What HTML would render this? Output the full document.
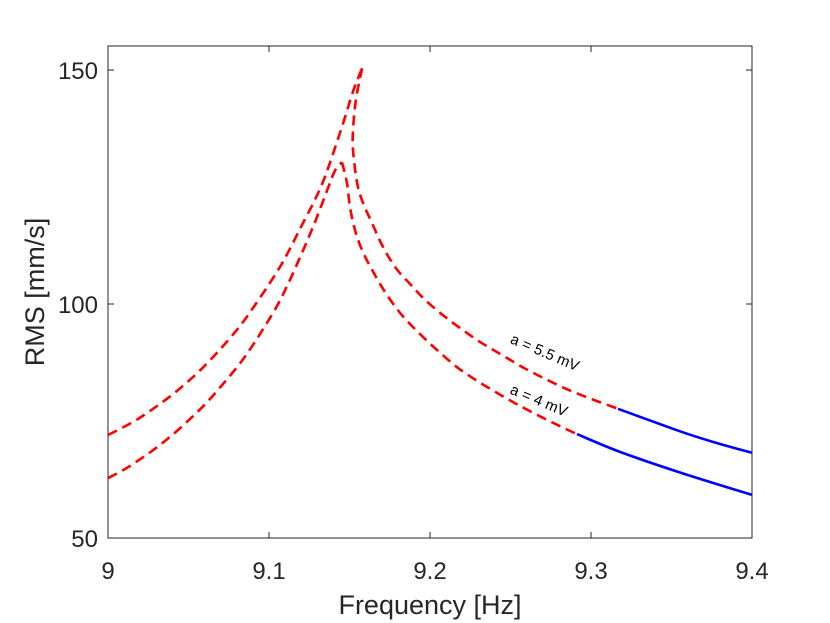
<!DOCTYPE html>
<html><head><meta charset="utf-8"><style>
body{margin:0;background:#fff;}
svg{display:block;font-family:"Liberation Sans",sans-serif;}
</style></head><body>
<svg id="chart" width="830" height="623" viewBox="0 0 830 623" xmlns="http://www.w3.org/2000/svg">
<rect width="830" height="623" fill="#fff"/>
<g id="axes"></g>
<g id="series"></g>
<text x="430" y="614" font-size="27" text-anchor="middle" fill="#262626">Frequency [Hz]</text>
<text transform="translate(44,292) rotate(-90)" font-size="27" text-anchor="middle" fill="#262626">RMS [mm/s]</text>
<text transform="translate(543,357) rotate(23)" font-size="15" text-anchor="middle" fill="#000">a = 5.5 mV</text>
<text transform="translate(537,405) rotate(23)" font-size="15" text-anchor="middle" fill="#000">a = 4 mV</text>
</svg>
<script>
const xTicks=[9,9.1,9.2,9.3,9.4];
const xTickLabels=["9","9.1","9.2","9.3","9.4"];
const yTicks=[50,100,150];
const yTickLabels=["50","100","150"];
const upperLeftF=[9.0000,9.0155,9.0280,9.0398,9.0509,9.0615,9.0714,9.0820,9.0901,9.0988,9.1068,9.1130,9.1193,9.1267,9.1329,9.1379,9.1460,9.1522,9.1578];
const upperLeftV=[72.0,74.8,77.6,80.6,83.8,87.3,91.0,95.3,99.2,103.6,107.9,111.8,116.1,121.0,125.6,130.2,138.6,145.4,150.4];
const lowerLeftF=[9.0000,9.0118,9.0261,9.0385,9.0509,9.0615,9.0714,9.0820,9.0901,9.0975,9.1050,9.1112,9.1174,9.1236,9.1298,9.1360,9.1410,9.1453];
const lowerLeftV=[62.8,65.0,68.3,71.6,75.4,79.0,82.9,87.3,91.3,95.3,99.6,103.8,108.5,113.4,118.6,124.2,128.5,130.3];
const upperRightF=[9.1578,9.1540,9.1522,9.1522,9.1547,9.1584,9.1640,9.1702,9.1783,9.1876,9.1969,9.2081,9.2205,9.2329,9.2453,9.2602,9.2870,9.3168,9.3553,9.3770,9.4000];
const upperRightV=[150.4,143.6,137.2,132.9,125.9,121.6,117.3,112.6,107.9,104.3,100.9,97.6,94.4,91.5,89.0,86.0,81.5,77.6,72.8,70.4,68.2];
const lowerRightF=[9.1453,9.1484,9.1503,9.1534,9.1578,9.1640,9.1720,9.1814,9.1919,9.2043,9.2168,9.2292,9.2416,9.2540,9.2683,9.2807,9.2913,9.3180,9.3553,9.4000];
const lowerRightV=[130.3,125.9,120.7,115.8,111.5,107.3,102.6,98.1,94.2,90.2,86.5,83.6,81.0,78.6,76.0,73.9,72.2,68.4,64.0,59.2];
const stableFrom=[9.3168,9.2913];
const NS="http://www.w3.org/2000/svg";
const X0=108,X1=752,Y0=538,Y1=46;
function sx(f){return X0+(f-9)/0.4*(X1-X0);}
function sy(v){return 538-(v-50)*4.68;}
const axes=document.getElementById('axes');
const box=document.createElementNS(NS,'rect');


box.setAttribute('x',X0);box.setAttribute('y',Y1);box.setAttribute('width',X1-X0);box.setAttribute('height',Y0-Y1);
box.setAttribute('fill','none');box.setAttribute('stroke','#262626');box.setAttribute('stroke-width','1');
axes.appendChild(box);
xTicks.forEach((t,i)=>{
  const x=sx(t);
  const l=document.createElementNS(NS,'path');
  
  
  l.setAttribute('d',`M${x},${Y0}v-6M${x},${Y1}v6`);l.setAttribute('stroke','#262626');
  axes.appendChild(l);
  const tx=document.createElementNS(NS,'text');
  
  
  tx.setAttribute('x',x);tx.setAttribute('y',579);tx.setAttribute('font-size','24');
  tx.setAttribute('text-anchor','middle');tx.setAttribute('fill','#262626');tx.textContent=xTickLabels[i];
  axes.appendChild(tx);
});
yTicks.forEach((t,i)=>{
  const y=sy(t);
  const l=document.createElementNS(NS,'path');
  
  
  l.setAttribute('d',`M${X0},${y}h6M${X1},${y}h-6`);l.setAttribute('stroke','#262626');
  axes.appendChild(l);
  const tx=document.createElementNS(NS,'text');
  
  
  tx.setAttribute('x',98);tx.setAttribute('y',y+9);tx.setAttribute('font-size','24');
  tx.setAttribute('text-anchor','end');tx.setAttribute('fill','#262626');tx.textContent=yTickLabels[i];
  axes.appendChild(tx);
});
const series=document.getElementById('series');
function smooth(F,V){
  const P=F.map((f,i)=>[sx(f),sy(V[i])]);
  let d='M'+P[0][0].toFixed(1)+','+P[0][1].toFixed(1);
  for(let i=0;i<P.length-1;i++){
    const p0=P[Math.max(0,i-1)],p1=P[i],p2=P[i+1],p3=P[Math.min(P.length-1,i+2)];
    const c1=[p1[0]+(p2[0]-p0[0])/6,p1[1]+(p2[1]-p0[1])/6];
    const c2=[p2[0]-(p3[0]-p1[0])/6,p2[1]-(p3[1]-p1[1])/6];
    d+='C'+c1[0].toFixed(1)+','+c1[1].toFixed(1)+' '+c2[0].toFixed(1)+','+c2[1].toFixed(1)+' '+p2[0].toFixed(1)+','+p2[1].toFixed(1);
  }
  return d;
}
function addPath(d,color,dash,name){
  const p=document.createElementNS(NS,'path');
  
  
  p.setAttribute('d',d);p.setAttribute('fill','none');p.setAttribute('stroke',color);
  p.setAttribute('stroke-width','2.6');p.setAttribute('stroke-linejoin','round');
  if(dash)p.setAttribute('stroke-dasharray','10,6');
  series.appendChild(p);
}
function splitIdx(F,th){
  let k=F.length-1;
  while(k>0&&F[k-1]>=th)k--;
  return k;
}
addPath(smooth(upperLeftF,upperLeftV),'#ff0000',true,'upper-left-unstable');
addPath(smooth(lowerLeftF,lowerLeftV),'#ff0000',true,'lower-left-unstable');
const ku=splitIdx(upperRightF,stableFrom[0]);
addPath(smooth(upperRightF.slice(0,ku+1),upperRightV.slice(0,ku+1)),'#ff0000',true,'upper-right-unstable');
addPath(smooth(upperRightF.slice(ku),upperRightV.slice(ku)),'#0000ff',false,'upper-right-stable');
const kl=splitIdx(lowerRightF,stableFrom[1]);
addPath(smooth(lowerRightF.slice(0,kl+1),lowerRightV.slice(0,kl+1)),'#ff0000',true,'lower-right-unstable');
addPath(smooth(lowerRightF.slice(kl),lowerRightV.slice(kl)),'#0000ff',false,'lower-right-stable');
</script>
</body></html>
